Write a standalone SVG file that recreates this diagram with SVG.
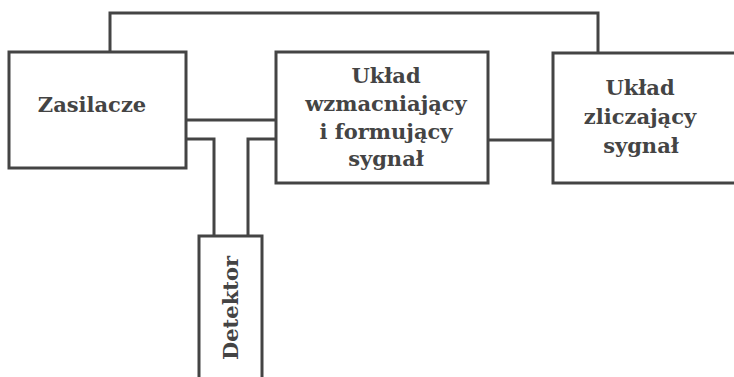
<svg xmlns="http://www.w3.org/2000/svg" width="734" height="377" viewBox="0 0 734 377">
<style>
.box{fill:#fff;stroke:#444;stroke-width:3}
.ln{fill:none;stroke:#444;stroke-width:3}
text{font-family:"DejaVu Serif","Liberation Serif",serif;font-weight:bold;font-size:21px;fill:#444;text-anchor:middle}
</style>
<rect width="734" height="377" fill="#fff"/>
<g id="connectors">
<polyline class="ln" points="110,52 110,13 598,13 598,52"/>
<line class="ln" x1="186" y1="120" x2="276" y2="120"/>
<polyline class="ln" points="186,139 214,139 214,236"/>
<polyline class="ln" points="276,139 248,139 248,236"/>
<line class="ln" x1="488" y1="140" x2="553" y2="140"/>
</g>
<g id="zasilacze">
<rect class="box" x="9" y="52" width="177" height="116"/>
<text x="92" y="112">Zasilacze</text>
</g>
<g id="wzmacniajacy">
<rect class="box" x="276" y="52" width="212" height="131"/>
<text x="386" y="83">Układ</text>
<text x="386" y="111">wzmacniający</text>
<text x="386" y="139">i formujący</text>
<text x="386" y="166">sygnał</text>
</g>
<g id="zliczajacy">
<rect class="box" x="553" y="53" width="200" height="130"/>
<text x="640" y="95">Układ</text>
<text x="640" y="124">zliczający</text>
<text x="641" y="153">sygnał</text>
</g>
<g id="detektor">
<rect class="box" x="199" y="236" width="63" height="160"/>
<text transform="translate(238,308) rotate(-90)">Detektor</text>
</g>
</svg>
